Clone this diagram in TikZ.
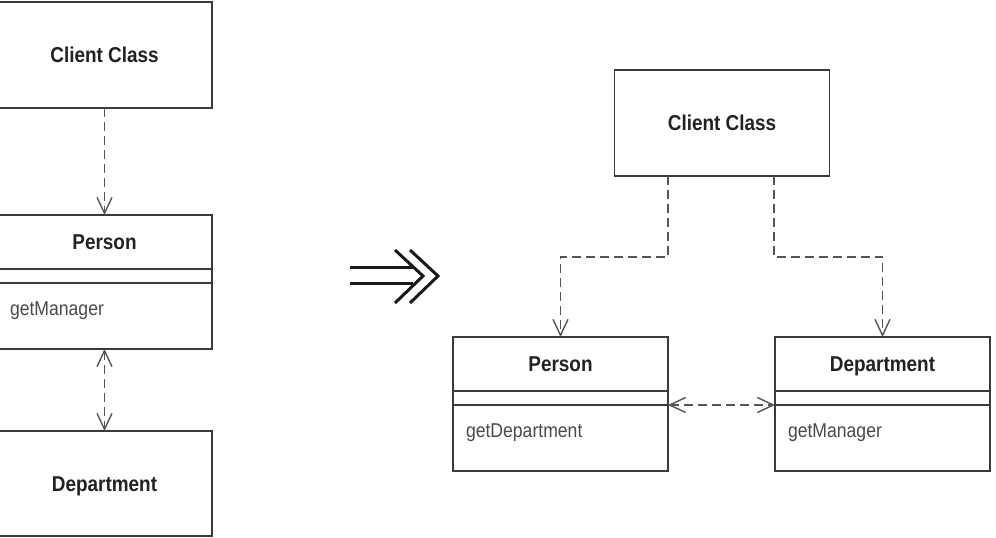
\documentclass[tikz,border=0pt]{standalone}
\usepackage{fontspec}
\newfontfamily\umlfont[FakeStretch=0.88]{Liberation Sans}
\usetikzlibrary{arrows.meta,positioning}
\definecolor{boxgray}{HTML}{3A3A3A}
\definecolor{dashgray}{HTML}{555555}
\definecolor{txtgray}{HTML}{222222}
\definecolor{mtdgray}{HTML}{4A4A4A}
\tikzset{
  cls/.style={draw=boxgray,rectangle,line width=1.6pt,minimum width=215pt,inner sep=0pt,outer sep=0pt},
  cname/.style={cls,minimum height=54pt,text=txtgray,text height=16pt,text depth=0pt,font=\umlfont\bfseries\fontsize{21.5}{24}\selectfont},
  cbig/.style={cname,minimum height=106pt},
  cgap/.style={cls,minimum height=14pt},
  cmeth/.style={cls,minimum height=66pt,text width=189pt,inner xsep=13pt,align=left,text height=14pt,text depth=14pt,text=mtdgray,font=\umlfont\fontsize{20}{22}\selectfont},
  dep/.style={dashgray,line width=1.4pt,dash pattern=on 9pt off 5pt,-{Straight Barb[length=16pt,width=15pt,line width=1.4pt]}},
  dep2/.style={dep,{Straight Barb[length=16pt,width=15pt,line width=1.4pt]}-{Straight Barb[length=16pt,width=15pt,line width=1.4pt]}},
  bigarr/.style={line width=3pt,black!90}
}
\begin{document}
\begin{tikzpicture}[x=1pt,y=1pt]
  \useasboundingbox (0,0) rectangle (996,538);
  % Before: chain on the left
  \node[cbig] (client1) at (104.5,483) {Client Class};
  \node[cname] (person1) at (104.5,296) {Person};
  \node[cgap, below=0pt of person1] (pgap1) {};
  \node[cmeth, below=0pt of pgap1] (pmeth1) {getManager};
  \node[cbig, minimum height=105pt] (dept1) at (104.5,54.5) {Department};

  \draw[dep] (client1.south) -- (person1.north);
  \draw[dep2] (pmeth1.south) -- (dept1.north);

  % Refactoring arrow
  \draw[bigarr] (350,270) -- (413,270);
  \draw[bigarr] (350,254) -- (413,254);
  \draw[bigarr] (395,288) -- (423,262) -- (395,235);
  \draw[bigarr] (410,288) -- (438,262) -- (410,235);

  % After: client talks to both
  \node[cbig] (client2) at (722,415) {Client Class};

  \node[cname] (person2) at (560.5,174) {Person};
  \node[cgap, below=0pt of person2] (pgap2) {};
  \node[cmeth, below=0pt of pgap2] (pmeth2) {getDepartment};

  \node[cname] (dept2) at (882.5,174) {Department};
  \node[cgap, below=0pt of dept2] (dgap2) {};
  \node[cmeth, below=0pt of dgap2] (dmeth2) {getManager};

  \draw[dep] ([xshift=-54pt]client2.south) -- ++(0,-81) -| (person2.north);
  \draw[dep] ([xshift=52pt]client2.south) -- ++(0,-81) -| (dept2.north);
  \draw[dep2] (pgap2.south east) -- (dgap2.south west);

\end{tikzpicture}
\end{document}
